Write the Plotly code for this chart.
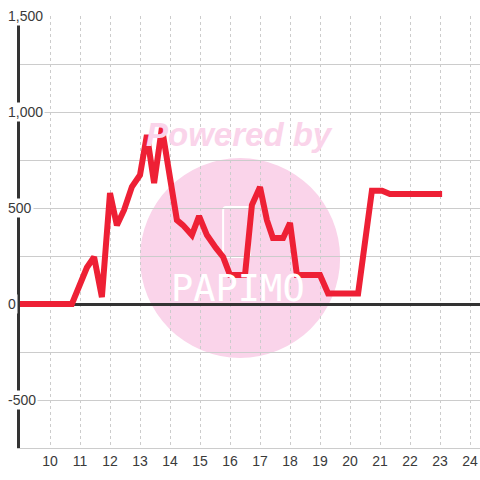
import plotly.graph_objects as go

# Data
hours = [9.0, 10.73, 11.23, 11.47, 11.73, 12.0, 12.23, 12.47, 12.73, 13.0,
         13.23, 13.47, 13.73, 14.0, 14.23, 14.43, 14.73, 14.97, 15.23, 15.53,
         15.77, 16.0, 16.5, 16.73, 17.0, 17.23, 17.43, 17.77, 18.0, 18.23,
         19.0, 19.27, 20.27, 20.73, 21.07, 21.33, 23.07]
values = [0, 0, 190, 245, 36, 578, 410, 490, 610, 672,
          880, 630, 917, 680, 437, 411, 359, 458, 359, 292,
          245, 151, 151, 516, 609, 437, 344, 344, 422, 151,
          151, 55, 55, 590, 590, 573, 573]

x_ticks = list(range(10, 25))
y_ticks = [-500, 0, 500, 1000, 1500]
y_labels = ["-500", "0", "500", "1,000", "1,500"]

TEXT = "#3a3a3a"
PINK = "#fad4ea"

fig = go.Figure()

fig.add_trace(go.Scatter(
    x=hours,
    y=values,
    mode="lines",
    line=dict(color="#ee2035", width=6),
    hoverinfo="skip",
    showlegend=False,
))

# watermark: pink disc with logo, plus "Powered by"
fig.add_shape(type="circle", xref="x", yref="y",
              x0=13.0, x1=19.67, y0=-281, y1=760,
              fillcolor=PINK, line=dict(width=0), layer="below")
fig.add_shape(type="path", xref="x", yref="y",
              path="M 15.87,505 L 16.57,505 Q 16.67,505 16.67,485 L 16.67,265 "
                   "Q 16.67,245 16.57,245 L 15.87,245 Q 15.77,245 15.77,265 "
                   "L 15.77,485 Q 15.77,505 15.87,505 Z",
              line=dict(color="white", width=2), layer="below")
fig.add_annotation(x=16.33, y=885, xref="x", yref="y", text="<b><i>Powered by</i></b>",
                   showarrow=False, font=dict(family="Liberation Sans", size=33, color=PINK))
fig.add_annotation(x=16.27, y=83, xref="x", yref="y", text="PAPIMO",
                   showarrow=False, font=dict(family="DejaVu Sans Mono", size=37, color="white"))

# y tick labels sitting over the axis line
for val, lab in zip(y_ticks, y_labels):
    fig.add_annotation(x=0, y=val, xref="paper", yref="y", text=lab,
                       xanchor="left", xshift=-14, showarrow=False,
                       bgcolor="white", borderpad=1,
                       font=dict(family="Liberation Sans", size=14, color=TEXT))

fig.update_layout(
    width=480, height=480,
    margin=dict(l=20, r=0, t=16, b=32),
    paper_bgcolor="white",
    plot_bgcolor="white",
    font=dict(family="Liberation Sans", size=14, color=TEXT),
    xaxis=dict(
        range=[9, 24.333],
        tickvals=x_ticks,
        ticks="",
        ticklabeloverflow="allow",
        showgrid=True, gridcolor="#cccccc", griddash="3px,3px", gridwidth=1,
        showline=True, linecolor="#cccccc", linewidth=1,
        zeroline=False,
        tickfont=dict(size=14, color=TEXT),
    ),
    yaxis=dict(
        range=[-750, 1500],
        tickvals=y_ticks,
        showticklabels=False,
        ticks="",
        showgrid=True, gridcolor="#cccccc", gridwidth=1,
        minor=dict(dtick=250, showgrid=True, gridcolor="#cccccc", gridwidth=1),
        showline=True, linecolor="#333333", linewidth=3,
        zeroline=True, zerolinecolor="#333333", zerolinewidth=3,
    ),
)

# drop the browser's default body margin so the 480px figure fills the window
fig.write_html("out.html", config={"displayModeBar": False},
               post_script="document.body.style.margin = '0';")
